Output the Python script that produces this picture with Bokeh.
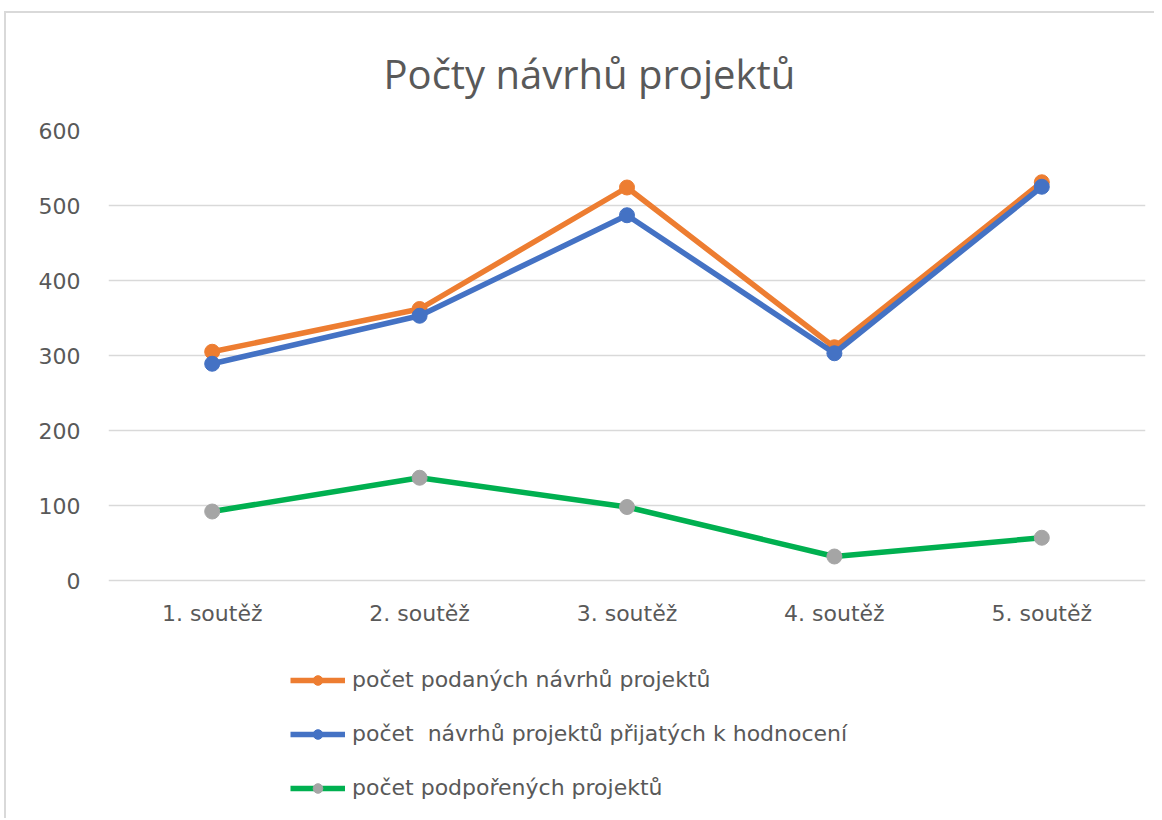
from bokeh.plotting import figure
from bokeh.models import FactorRange, Range1d, Legend, LegendItem
from bokeh.embed import file_html
from bokeh.resources import INLINE

categories = ["1. soutěž", "2. soutěž", "3. soutěž", "4. soutěž", "5. soutěž"]
podane = [305, 362, 524, 311, 531]
prijate = [289, 353, 487, 303, 525]
podporene = [92, 137, 98, 32, 57]
series_names = [
    "počet podaných návrhů projektů",
    "počet  návrhů projektů přijatých k hodnocení",
    "počet podpořených projektů",
]
y_ticks = [0, 100, 200, 300, 400, 500, 600]

TITLE_FONT = "Open Sans"
FONT = "DejaVu Sans"
TXT = "#595959"

W, H = 1150, 807
TOP, BOTTOM, LEFT, RIGHT = 117, 2, 102, 11
frame_h = H - TOP - BOTTOM
y_start = 600 - frame_h * 600 / 450.0

p = figure(
    width=W, height=H,
    x_range=FactorRange(*categories, range_padding=0),
    y_range=Range1d(y_start, 600),
    output_backend="svg", toolbar_location=None,
    min_border_left=LEFT, min_border_right=RIGHT,
    min_border_top=TOP, min_border_bottom=BOTTOM,
    title="Počty návrhů projektů",
)
p.styles = {"margin-left": "4px", "margin-top": "11px",
            "border-left": "2px solid #D9D9D9", "border-top": "2px solid #D9D9D9"}
p.outline_line_color = None
p.background_fill_color = "white"
p.border_fill_color = "white"

p.title.align = "left"
p.title.offset = 275
p.title.text_font = TITLE_FONT
p.title.text_font_size = "40px"
p.title.text_font_style = "normal"
p.title.text_color = TXT
p.title.text_line_height = 0.6
p.title.standoff = 60

p.xgrid.grid_line_color = None
p.ygrid.grid_line_color = "#D9D9D9"
p.ygrid.grid_line_width = 1.5
p.yaxis.ticker = y_ticks

for ax in (p.xaxis[0], p.yaxis[0]):
    ax.axis_line_color = None
    ax.major_tick_line_color = None
    ax.minor_tick_line_color = None
    ax.major_tick_out = 0
    ax.major_tick_in = 0
    ax.major_label_text_font = FONT
    ax.major_label_text_font_size = "22px"
    ax.major_label_text_color = TXT
p.yaxis.major_label_standoff = 28
p.xaxis.major_label_standoff = 20
p.xaxis.fixed_location = 0

colors = ["#ED7D31", "#4472C4", "#00B050"]
mcolors = ["#ED7D31", "#4472C4", "#A5A5A5"]
items = []
for name, vals, c, mc in zip(series_names, [podane, prijate, podporene], colors, mcolors):
    l = p.line(categories, vals, line_color=c, line_width=5.5)
    s = p.scatter(categories, vals, size=15, fill_color=mc, line_color=mc)
    items.append(LegendItem(label=name, renderers=[l, s]))

legend = Legend(items=items, orientation="vertical", location=(182, 18))
legend.border_line_color = None
legend.background_fill_alpha = 0
legend.padding = 0
legend.margin = 0
legend.glyph_width = 55
legend.glyph_height = 24
legend.label_height = 24
legend.spacing = 29
legend.label_standoff = 7
legend.label_text_font = FONT
legend.label_text_font_size = "22px"
legend.label_text_color = TXT
p.add_layout(legend, "center")

open("out.html", "w").write(file_html(p, INLINE))
